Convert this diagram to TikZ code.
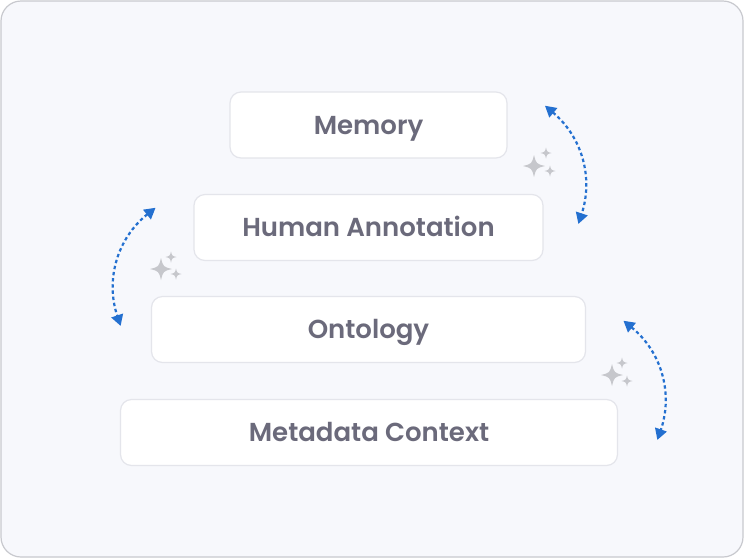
\documentclass[tikz,border=0pt]{standalone}
\usepackage{fontspec}
\setmainfont{Poppins}[BoldFont={Poppins SemiBold}]
\usetikzlibrary{arrows.meta,positioning}

\definecolor{panelfill}{HTML}{F7F8FC}
\definecolor{panelline}{HTML}{C8C9CE}
\definecolor{boxline}{HTML}{E4E5EB}
\definecolor{labeltext}{HTML}{6B6A7B}
\definecolor{loopblue}{HTML}{2470D0}
\definecolor{sparkgray}{HTML}{C6C7CC}

\begin{document}
\begin{tikzpicture} [
    x=1pt, y=-1pt,
    layer/.style={draw=boxline, line width=1.2pt, fill=white, rounded corners=11pt, inner sep=0pt, minimum height=66pt, text height=18.2pt, text depth=0pt, font=\fontsize{26}{30}\selectfont\bfseries, text=labeltext},
    looparrow/.style={loopblue, line width=2.2pt, dash pattern=on 3.4pt off 2.8pt, {Triangle[length=11pt,width=12pt]}-{Triangle[length=11pt,width=12pt]}, shorten <=-2pt, shorten >=-2pt},
    sparkle/.pic={\fill[sparkgray] (0,-1) .. controls (0.2,-0.2) .. (1,0) .. controls (0.2,0.2) .. (0,1) .. controls (-0.2,0.2) .. (-1,0) .. controls (-0.2,-0.2) .. cycle;}
  ]

\useasboundingbox (0,0) rectangle (744,558);
\draw[panelline, fill=panelfill, line width=1.2pt, rounded corners=20pt] (1,1) rectangle (743,557);

% the four layers
\node[layer, minimum width=277pt] (memory) at (368.5,125) {Memory};
\node[layer, minimum width=349pt] (human) at (368.5,227.5) {Human Annotation};
\node[layer, minimum width=434pt] (ontology) at (368.5,329.5) {Ontology};
\node[layer, minimum width=497pt] (metadata) at (369,432.5) {Metadata Context};

% loop arrows
\coordinate (m1) at (546.5,107);
\coordinate (m2) at (579,222);
\coordinate (h1) at (154,209);
\coordinate (h2) at (120,324);
\coordinate (o1) at (625,322);
\coordinate (o2) at (658,438);
\draw [looparrow] (m1) to[bend left=34] (m2);
\draw [looparrow] (h1) to[bend right=35] (h2);
\draw [looparrow] (o1) to[bend left=35] (o2);

% sparkles
\pic[scale=11] at (534,166) {sparkle};
\pic[scale=5.5] at (546,153) {sparkle};
\pic[scale=5.5] at (550,171) {sparkle};

\pic[scale=11] at (161,269) {sparkle};
\pic[scale=5.5] at (171,257) {sparkle};
\pic[scale=5.5] at (176,274) {sparkle};

\pic[scale=11] at (612,375) {sparkle};
\pic[scale=5.5] at (622,363) {sparkle};
\pic[scale=5.5] at (627,381) {sparkle};

\end{tikzpicture}
\end{document}
